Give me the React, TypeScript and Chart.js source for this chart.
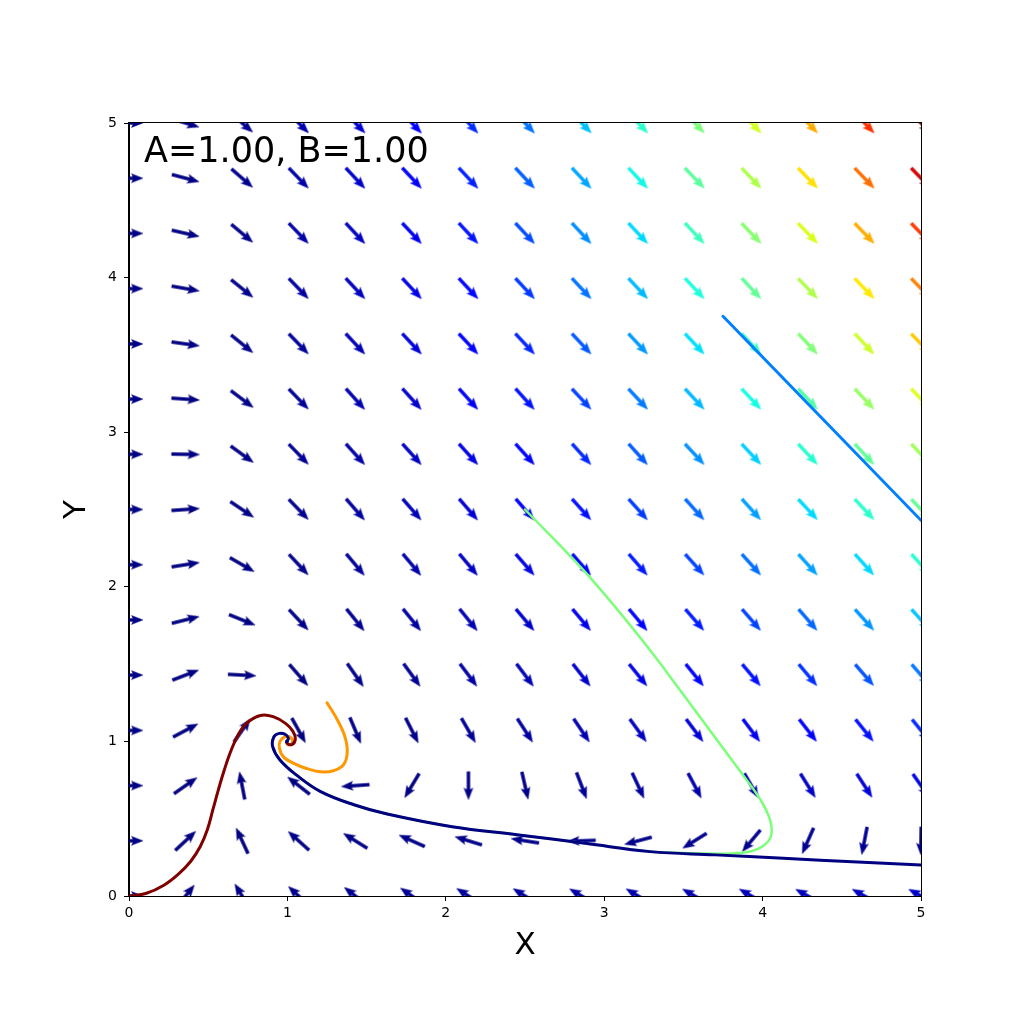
import React, { useEffect, useRef } from 'react';
import { Chart, registerables } from 'chart.js';

Chart.register(...registerables);

// ---------------- data ----------------
const X_GRID = [0, 0.357, 0.714, 1.071, 1.429, 1.786, 2.143, 2.5, 2.857, 3.214, 3.571, 3.929, 4.286, 4.643, 5];
const Y_GRID = [0, 0.357, 0.714, 1.071, 1.429, 1.786, 2.143, 2.5, 2.857, 3.214, 3.571, 3.929, 4.286, 4.643, 5];

// arrow direction (degrees, counter-clockwise from +X), one row per Y_GRID value (bottom to top)
const ARROW_ANGLE_DEG = [
  [0, 51, 121, 137, 142, 145, 147, 148, 149, 149, 150, 150, 151, 151, 151],
  [0, 43, 115, 138, 148, 156, 163, 171, -178, -165, -148, -130, -114, -101, -91],
  [0, 35, 101, 142, -176, -121, -90, -77, -69, -65, -62, -60, -58, -57, -55],
  [0, 28, 55, -61, -67, -63, -60, -57, -56, -54, -53, -53, -52, -51, -51],
  [0, 21, -3, -49, -55, -54, -53, -53, -52, -51, -51, -50, -50, -49, -49],
  [0, 14, -22, -47, -51, -51, -51, -50, -50, -50, -49, -49, -49, -48, -48],
  [0, 9, -30, -47, -50, -50, -50, -49, -49, -49, -48, -48, -48, -48, -48],
  [0, 4, -34, -46, -49, -49, -49, -49, -48, -48, -48, -48, -47, -47, -47],
  [0, -1, -36, -46, -48, -48, -48, -48, -48, -48, -47, -47, -47, -47, -47],
  [0, -4, -37, -46, -48, -48, -48, -48, -47, -47, -47, -47, -47, -47, -47],
  [0, -8, -39, -46, -47, -47, -47, -47, -47, -47, -47, -47, -47, -47, -46],
  [0, -10, -39, -46, -47, -47, -47, -47, -47, -47, -47, -47, -46, -46, -46],
  [0, -13, -40, -46, -47, -47, -47, -47, -47, -47, -47, -46, -46, -46, -46],
  [0, -15, -41, -46, -47, -47, -47, -47, -47, -47, -46, -46, -46, -46, -46],
  [0, -17, -41, -45, -46, -47, -47, -47, -46, -46, -46, -46, -46, -46, -46],
];

// arrow speed (drives the colour), same layout
const ARROW_MAGNITUDE = [
  [1, 0.46, 0.83, 1.57, 2.34, 3.13, 3.92, 4.72, 5.51, 6.31, 7.11, 7.9, 8.7, 9.5, 10.3],
  [1, 0.46, 0.59, 0.99, 1.33, 1.57, 1.72, 1.79, 1.8, 1.8, 1.87, 2.08, 2.49, 3.11, 3.93],
  [1, 0.46, 0.36, 0.41, 0.4, 0.57, 1.14, 2.02, 3.18, 4.6, 6.28, 8.22, 10.4, 12.9, 15.6],
  [1, 0.48, 0.21, 0.18, 0.83, 1.84, 3.22, 4.99, 7.14, 9.66, 12.6, 15.9, 19.6, 23.7, 28.1],
  [1, 0.5, 0.3, 0.76, 1.82, 3.41, 5.5, 8.1, 11.2, 14.9, 19.0, 23.7, 28.8, 34.5, 40.7],
  [1, 0.53, 0.52, 1.34, 2.85, 5.01, 7.8, 11.2, 15.3, 20.0, 25.4, 31.4, 38.1, 45.4, 53.3],
  [1, 0.57, 0.77, 1.91, 3.87, 6.61, 10.1, 14.4, 19.4, 25.3, 31.9, 39.2, 47.4, 56.3, 65.9],
  [1, 0.61, 1.02, 2.49, 4.9, 8.21, 12.4, 17.5, 23.6, 30.5, 38.3, 47.0, 56.6, 67.1, 78.5],
  [1, 0.65, 1.27, 3.07, 5.93, 9.82, 14.7, 20.7, 27.7, 35.7, 44.7, 54.8, 65.9, 78.0, 91.2],
  [1, 0.7, 1.52, 3.65, 6.96, 11.4, 17.1, 23.8, 31.8, 40.9, 51.2, 62.5, 75.1, 88.9, 103.8],
  [1, 0.75, 1.78, 4.23, 7.99, 13.0, 19.4, 27.0, 35.9, 46.1, 57.6, 70.3, 84.4, 99.8, 116.4],
  [1, 0.8, 2.04, 4.81, 9.02, 14.7, 21.7, 30.1, 40.0, 51.3, 64.1, 78.1, 93.7, 110.7, 129.0],
  [1, 0.85, 2.29, 5.39, 10.1, 16.3, 24.0, 33.3, 44.1, 56.5, 70.5, 85.9, 103.0, 121.6, 141.7],
  [1, 0.91, 2.55, 5.97, 11.1, 17.9, 26.3, 36.5, 48.3, 61.7, 76.9, 93.7, 112.3, 132.4, 154.3],
  [1, 0.97, 2.81, 6.55, 12.1, 19.5, 28.6, 39.6, 52.4, 67.0, 83.4, 101.5, 121.5, 143.3, 166.9],
];

// trajectories [x, y]
const TRAJ_FROM_0 = [
  [0, 0], [0.11, 0.018], [0.22, 0.07], [0.31, 0.14], [0.39, 0.225], [0.45, 0.32], [0.495, 0.43],
  [0.53, 0.56], [0.565, 0.69], [0.6, 0.81], [0.64, 0.93], [0.69, 1.045], [0.745, 1.12], [0.83, 1.168],
  [0.91, 1.16], [0.99, 1.115], [1.035, 1.065], [1.05, 1.015], [1.03, 0.98], [1.0, 0.985], [0.995, 1.0],
];
const TRAJ_FROM_125 = [
  [1.25, 1.25], [1.31, 1.15], [1.36, 1.04], [1.378, 0.935], [1.355, 0.85], [1.29, 0.81],
  [1.21, 0.803], [1.12, 0.825], [1.04, 0.858], [0.975, 0.9], [0.95, 0.955], [0.953, 1.0],
  [0.985, 1.03], [1.02, 1.025], [1.033, 0.995], [1.012, 0.977], [0.995, 0.99], [1.0, 1.0],
];
const TRAJ_FROM_250 = [
  [2.5, 2.5], [2.879, 2.096], [3.239, 1.656], [3.497, 1.307], [3.712, 1.009], [3.876, 0.783],
  [3.984, 0.627], [4.047, 0.492], [4.053, 0.388], [4.003, 0.323], [3.92, 0.288], [3.794, 0.275],
  [3.605, 0.275], [3.415, 0.281], [3.29, 0.287], [2.88, 0.341], [2.46, 0.395], [2.04, 0.448],
  [1.63, 0.53], [1.42, 0.59], [1.21, 0.675], [1.06, 0.78], [0.953, 0.88], [0.907, 0.966],
  [0.915, 1.03], [0.949, 1.052], [0.985, 1.046], [1.006, 1.02], [0.995, 0.998], [1, 1],
];
const TRAJ_FROM_375 = [[3.75, 3.75], [4.375, 3.09], [5, 2.43]];
const TRAJ_FROM_500 = [
  [5, 0.2], [4.6, 0.22], [4.13, 0.244], [3.7, 0.266], [3.29, 0.287], [2.88, 0.341], [2.46, 0.395],
  [2.04, 0.448], [1.63, 0.53], [1.42, 0.59], [1.21, 0.675], [1.06, 0.78], [0.953, 0.88],
  [0.907, 0.966], [0.915, 1.03], [0.949, 1.052], [0.985, 1.046], [1.006, 1.02], [0.995, 0.998], [1, 1],
];

const PARAM_TEXT = 'A=1.00, B=1.00';
const X_LABEL = 'X';
const Y_LABEL = 'Y';

// ---------------- styling helpers ----------------
const JET: Record<string, number[][]> = {
  r: [[0, 0], [0.35, 0], [0.66, 1], [0.89, 1], [1, 0.5]],
  g: [[0, 0], [0.125, 0], [0.375, 1], [0.64, 1], [0.91, 0], [1, 0]],
  b: [[0, 0.5], [0.11, 1], [0.34, 1], [0.65, 0], [1, 0]],
};
function seg(s: number[][], t: number) {
  for (let k = 1; k < s.length; k++) {
    if (t <= s[k][0]) {
      const [x0, y0] = s[k - 1];
      const [x1, y1] = s[k];
      return y0 + ((t - x0) / (x1 - x0)) * (y1 - y0);
    }
  }
  return s[s.length - 1][1];
}
function jet(t: number) {
  const c = Math.max(0, Math.min(1, t));
  const r = Math.round(seg(JET.r, c) * 255);
  const g = Math.round(seg(JET.g, c) * 255);
  const b = Math.round(seg(JET.b, c) * 255);
  return `rgb(${r},${g},${b})`;
}

function makeArrow(color: string) {
  const c = document.createElement('canvas');
  c.width = 32;
  c.height = 12;
  const g = c.getContext('2d')!;
  g.translate(16, 6);
  g.fillStyle = color;
  g.strokeStyle = color;
  g.lineWidth = 0.4;
  const L = 14, w = 1.5, hal = 10, hl = 11.5, hw = 4.5;
  g.beginPath();
  g.moveTo(-L, -w);
  g.lineTo(L - hal, -w);
  g.lineTo(L - hl, -hw);
  g.lineTo(L, 0);
  g.lineTo(L - hl, hw);
  g.lineTo(L - hal, w);
  g.lineTo(-L, w);
  g.closePath();
  g.fill();
  g.stroke();
  return c;
}

const toPts = (arr: number[][]) => arr.map(([x, y]) => ({ x, y }));

const framePlugin = {
  id: 'frameAndText',
  afterDraw(chart: any) {
    const { ctx, chartArea: a } = chart;
    ctx.save();
    ctx.strokeStyle = '#000';
    ctx.lineWidth = 1;
    ctx.strokeRect(a.left - 0.5, a.top - 0.5, a.right - a.left + 1, a.bottom - a.top + 1);
    ctx.fillStyle = '#000';
    ctx.font = '35px "DejaVu Sans"';
    ctx.textAlign = 'left';
    ctx.textBaseline = 'alphabetic';
    ctx.fillText(PARAM_TEXT, a.left + 15, a.top + 39);
    ctx.restore();
  },
};

export default function App() {
  const ref = useRef<HTMLCanvasElement>(null);

  useEffect(() => {
    const canvas = ref.current!;
    Chart.defaults.font.family = '"DejaVu Sans", sans-serif';
    Chart.defaults.color = '#000';

    const arrowPts: { x: number; y: number }[] = [];
    const arrowAng: number[] = [];
    const arrowMag: number[] = [];
    Y_GRID.forEach((y, j) =>
      X_GRID.forEach((x, i) => {
        arrowPts.push({ x, y });
        arrowAng.push(ARROW_ANGLE_DEG[j][i]);
        arrowMag.push(ARROW_MAGNITUDE[j][i]);
      })
    );
    const mMin = Math.min(...arrowMag);
    const mMax = Math.max(...arrowMag);
    const arrowImgs = arrowMag.map((m) => makeArrow(jet((m - mMin) / (mMax - mMin))));

    const line = (data: number[][], color: string, width: number, order: number, tension: number) => ({
      data: toPts(data),
      showLine: true,
      borderColor: color,
      backgroundColor: color,
      borderWidth: width,
      pointRadius: 0,
      pointHoverRadius: 0,
      tension,
      fill: false,
      order,
      clip: 0,
      borderCapStyle: 'round',
      borderJoinStyle: 'round',
    });

    const chart = new Chart(canvas, {
      type: 'scatter',
      data: {
        datasets: [
          {
            data: arrowPts,
            showLine: false,
            pointStyle: (c: any) => arrowImgs[c.dataIndex],
            pointRotation: (c: any) => -arrowAng[c.dataIndex],
            pointRadius: 14,
            pointHoverRadius: 14,
            order: 10,
            clip: 0,
          } as any,
          line(TRAJ_FROM_250, jet(0.5), 2.5, 6, 0.4) as any,
          line(TRAJ_FROM_375, jet(0.25), 3, 5, 0) as any,
          line(TRAJ_FROM_125, jet(0.75), 3, 4, 0.35) as any,
          line(TRAJ_FROM_0, jet(1), 3, 3, 0.4) as any,
          line(TRAJ_FROM_500, jet(0), 3, 2, 0.4) as any,
        ],
      },
      options: {
        responsive: false,
        animation: false,
        events: [],
        layout: { padding: { left: 0, top: 123, right: 103, bottom: 0 } },
        plugins: { legend: { display: false }, tooltip: { enabled: false }, title: { display: false } },
        scales: {
          x: {
            type: 'linear',
            min: 0,
            max: 5,
            ticks: { stepSize: 1, color: '#000', font: { size: 14 }, padding: 4 },
            grid: { drawOnChartArea: false, drawTicks: true, tickLength: 5, color: '#000' },
            border: { display: true, color: '#000', width: 1 },
            title: {
              display: true,
              text: X_LABEL,
              color: '#000',
              font: { size: 31, lineHeight: 1.2 },
              padding: { top: 0, bottom: 59 },
            },
            afterFit: (s: any) => {
              s.height = 128;
            },
          },
          y: {
            type: 'linear',
            min: 0,
            max: 5,
            ticks: { stepSize: 1, color: '#000', font: { size: 14 }, padding: 7 },
            grid: { drawOnChartArea: false, drawTicks: true, tickLength: 5, color: '#000' },
            border: { display: true, color: '#000', width: 1 },
            title: {
              display: true,
              text: Y_LABEL,
              color: '#000',
              font: { size: 31, lineHeight: 1.2 },
              padding: { top: 58, bottom: 0 },
            },
            afterFit: (s: any) => {
              s.width = 129;
            },
          },
        },
      } as any,
      plugins: [framePlugin],
    });
    return () => chart.destroy();
  }, []);

  return (
    <div style={{ position: 'absolute', left: 0, top: 0, width: 1024, height: 1024, background: '#fff' }}>
      <canvas ref={ref} width={1024} height={1024} style={{ display: 'block', width: 1024, height: 1024 }} />
    </div>
  );
}
